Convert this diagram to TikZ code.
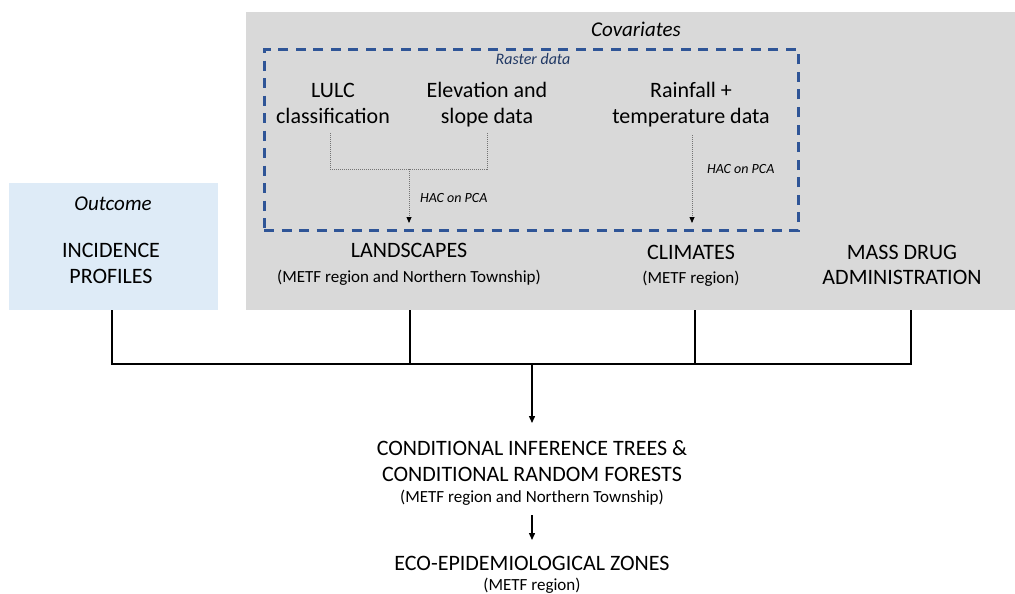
\documentclass[tikz,border=0pt]{standalone}
\usepackage{fontspec}
\setmainfont{Carlito}
\usetikzlibrary{arrows.meta}
\definecolor{graybg}{HTML}{D9D9D9}
\definecolor{bluebg}{HTML}{DEEBF7}
\definecolor{dashblue}{HTML}{2F5597}
\definecolor{rastercol}{HTML}{203864}
\begin{document}
\begin{tikzpicture}[x=1pt,y=-1pt,
  every node/.style={inner sep=0pt},
  lbl/.style={anchor=base, font=\fontsize{22}{26}\selectfont},
  ital/.style={anchor=base, font=\fontsize{21}{25}\selectfont\itshape},
  sub/.style={anchor=base, font=\fontsize{17}{20}\selectfont},
  hac/.style={anchor=base west, font=\fontsize{14}{16}\selectfont\itshape},
  rast/.style={anchor=base, font=\fontsize{16}{18}\selectfont\itshape, text=rastercol},
  dotline/.style={draw=black!55, line width=0.8pt, dash pattern=on 1pt off 1pt},
  dotarrow/.style={dotline, -{Triangle[length=6pt,width=5pt,color=black]}},
  conn/.style={line width=1.8pt},
  mainarrow/.style={line width=1.4pt, -{Triangle[length=7pt,width=6pt]}}
]
\useasboundingbox (0,0) rectangle (1015,594);
\fill[white] (0,0) rectangle (1015,594);

% boxes
\node[fill=graybg, anchor=north west, minimum width=769pt, minimum height=298pt] (covbox) at (246,12) {};
\node[fill=bluebg, anchor=north west, minimum width=209pt, minimum height=127pt] (outbox) at (9,183) {};
\node[draw=dashblue, line width=3pt, dash pattern=on 10pt off 7.5pt, anchor=north west, minimum width=534pt, minimum height=181pt] (rasterbox) at (262.5,48) {};

% covariate texts
\node[ital] (cov) at (636,37) {Covariates};
\node[rast] (rast) at (533,65) {Raster data};
\node[lbl] (lulc1) at (333,97) {LULC};
\node[lbl] (lulc2) at (333,123) {classification};
\node[lbl] (elev1) at (487,97) {Elevation and};
\node[lbl] (elev2) at (487,123) {slope data};
\node[lbl] (rain1) at (691,97) {Rainfall +};
\node[lbl] (rain2) at (691,123) {temperature data};
\node[hac] (hac1) at (420,202) {HAC on PCA};
\node[hac] (hac2) at (707,173) {HAC on PCA};

\node[lbl] (land1) at (409,257) {LANDSCAPES};
\node[sub] (land2) at (409,282) {(METF region and Northern Township)};
\node[lbl] (clim1) at (691,259) {CLIMATES};
\node[sub] (clim2) at (691,283) {(METF region)};
\node[lbl] (mda1) at (902,259) {MASS DRUG};
\node[lbl] (mda2) at (902,284) {ADMINISTRATION};

% outcome texts
\node[ital] (outc) at (113,210) {Outcome};
\node[lbl] (inc1) at (111,257) {INCIDENCE};
\node[lbl] (inc2) at (111,283) {PROFILES};

% bottom texts
\node[lbl] (cond1) at (532,455) {CONDITIONAL INFERENCE TREES \&};
\node[lbl] (cond2) at (532,481) {CONDITIONAL RANDOM FORESTS};
\node[sub] (cond3) at (532,502) {(METF region and Northern Township)};
\node[lbl] (eco1) at (532,570) {ECO-EPIDEMIOLOGICAL ZONES};
\node[sub] (eco2) at (532,590) {(METF region)};

% dotted connectors inside raster box
\coordinate (lulcS) at (330,133);
\coordinate (elevS) at (487,133);
\coordinate (landJ) at (409,169);
\coordinate (landT) at (409,223);
\coordinate (rainS) at (692,135);
\coordinate (climT) at (692,223);
\draw[dotline] (lulcS) |- (elevS |- landJ) -- (elevS);
\draw[dotarrow] (landJ) -- (landT);
\draw[dotarrow] (rainS) -- (climT);

% bus connectors
\coordinate (busL) at (112,364);
\coordinate (busR) at (911,364);
\coordinate (landB) at (410,310);
\coordinate (climB) at (695,310);
\coordinate (mdaB) at (911,310);
\coordinate (busM) at (532,364);
\coordinate (condT) at (532,423);
\coordinate (condB) at (532,515);
\coordinate (ecoT) at (532,540);
\draw[conn] (outbox.south -| busL) -- (busL) -- (busR) -- (mdaB);
\draw[conn] (landB) -- (landB |- busL);
\draw[conn] (climB) -- (climB |- busL);
\draw[mainarrow] (busM) -- (condT);
\draw[mainarrow] (condB) -- (ecoT);
\end{tikzpicture}
\end{document}
